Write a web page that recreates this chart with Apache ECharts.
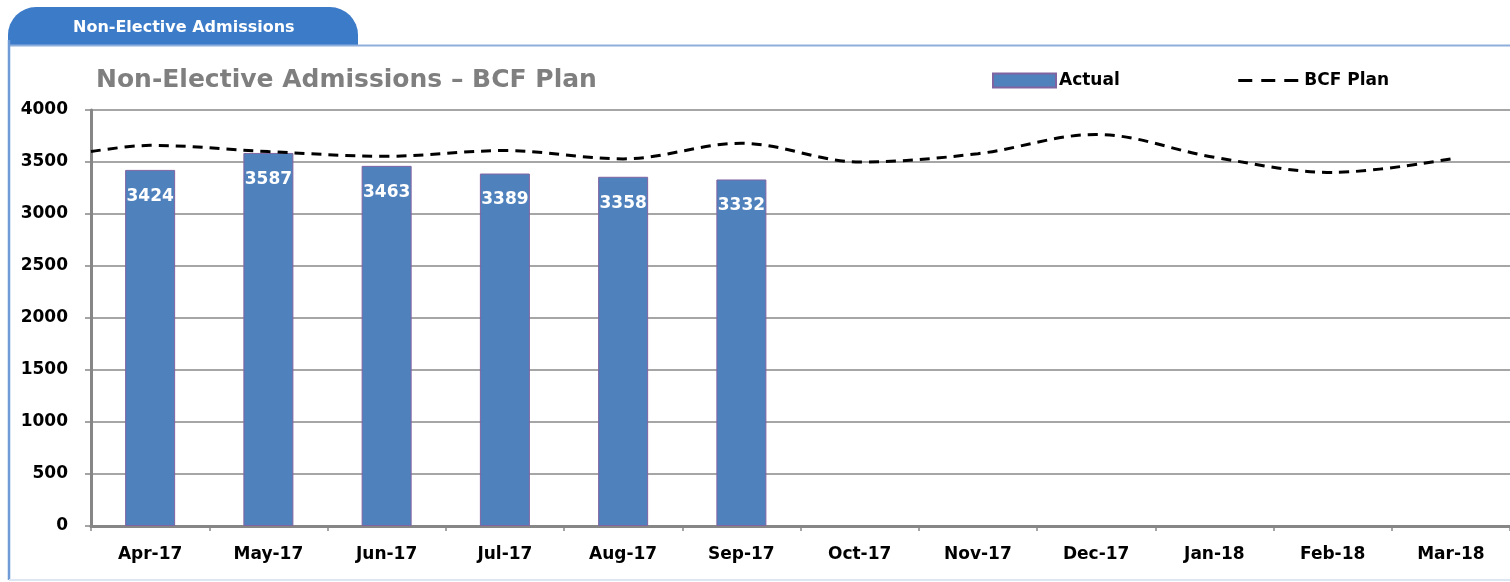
<!DOCTYPE html>
<html>
<head>
<meta charset="utf-8">
<script src="https://cdn.jsdelivr.net/npm/echarts@6/dist/echarts.min.js"></script>
<style>
html,body{margin:0;padding:0;background:#fff;}
#chart{width:1510px;height:582px;}
</style>
</head>
<body>
<div id="chart"></div>
<script>
// ---- data ----
const categories = ['Apr-17','May-17','Jun-17','Jul-17','Aug-17','Sep-17','Oct-17','Nov-17','Dec-17','Jan-18','Feb-18','Mar-18'];
const actual = [3424, 3587, 3463, 3389, 3358, 3332];
const bcfPlan = [3660, 3600, 3555, 3610, 3530, 3680, 3500, 3580, 3765, 3545, 3400, 3530];
const bcfPlanAtAxisStart = 3600; // where the plan line meets the y-axis
const yTicks = [0, 500, 1000, 1500, 2000, 2500, 3000, 3500, 4000];
const titleText = 'Non-Elective Admissions \u2013 BCF Plan';
const tabText = 'Non-Elective Admissions';

const FONT = 'DejaVu Sans';
const chart = echarts.init(document.getElementById('chart'), null, {renderer:'canvas'});

// plan points on a hidden value x-axis spanning the category band (0..n)
const planData = [[0, bcfPlanAtAxisStart]].concat(bcfPlan.map((v, i) => [i + 0.5, v]));

const option = {
  animation: false,
  backgroundColor: '#fff',
  title: {
    text: titleText,
    left: 91, top: 63,
    textStyle: {fontFamily: FONT, fontSize: 25, fontWeight: 'bold', color: '#7f7f7f'}
  },
  legend: {
    left: 987, top: 67,
    itemWidth: 63, itemHeight: 14, itemGap: 117,
    textStyle: {fontFamily: FONT, fontSize: 17, fontWeight: 'bold', color: '#000', padding: [0,0,0,-2]},
    data: [{name: 'Actual', icon: 'rect'},
           {name: 'BCF Plan', itemStyle: {opacity: 0}, lineStyle: {type: [14, 9], width: 3}}]
  },
  grid: {left: 91, top: 110, right: -1, bottom: 56, containLabel: false},
  xAxis: [{
    type: 'category',
    data: categories,
    boundaryGap: true,
    axisLine: {lineStyle: {color: '#868686', width: 3}},
    axisTick: {show: true, length: 5, lineStyle: {color: '#868686', width: 1.5}},
    axisLabel: {fontFamily: FONT, fontSize: 17, fontWeight: 'bold', color: '#000', margin: 20}
  }, {
    type: 'value', min: 0, max: categories.length, show: false
  }],
  yAxis: {
    type: 'value', min: yTicks[0], max: yTicks[yTicks.length - 1], interval: yTicks[1] - yTicks[0],
    axisLine: {show: true, lineStyle: {color: '#868686', width: 3}},
    axisTick: {show: true, length: 6, lineStyle: {color: '#868686', width: 1.5}},
    axisLabel: {fontFamily: FONT, fontSize: 17, fontWeight: 'bold', color: '#000', margin: 23,
                formatter: v => String(v)},
    splitLine: {lineStyle: {color: '#a6a6a6', width: 2}}
  },
  series: [{
    name: 'Actual',
    type: 'bar',
    data: actual,
    barWidth: 50,
    itemStyle: {color: '#4f81bd', borderColor: '#8064a2', borderWidth: 1},
    label: {show: true, position: 'insideTop', distance: 18, color: '#fff',
            fontFamily: FONT, fontSize: 17, fontWeight: 'bold'}
  }, {
    name: 'BCF Plan',
    type: 'line',
    xAxisIndex: 1,
    data: planData,
    smooth: 0.35,
    symbol: 'none',
    lineStyle: {color: '#000', width: 3, type: [10, 7]},
    itemStyle: {color: '#000'},
    z: 5
  }],
  graphic: [
    {type: 'rect', shape: {x: 8, y: 7, width: 350, height: 39, r: [28, 28, 0, 0]},
     style: {fill: '#3b7bc8'}, z: 0},
    {type: 'text', x: 73, y: 28,
     style: {text: tabText, fill: '#fff', font: 'bold 16px "DejaVu Sans"', textVerticalAlign: 'middle'}, z: 1},
    {type: 'line', shape: {x1: 8, y1: 45.5, x2: 1510, y2: 45.5}, style: {stroke: '#8eaedb', lineWidth: 2}},
    {type: 'line', shape: {x1: 9, y1: 40, x2: 9, y2: 580}, style: {stroke: '#6f9bd6', lineWidth: 2.5}},
    {type: 'line', shape: {x1: 9, y1: 580, x2: 1510, y2: 580}, style: {stroke: '#dde6f3', lineWidth: 2}}
  ]
};
chart.setOption(option);
</script>
</body>
</html>
